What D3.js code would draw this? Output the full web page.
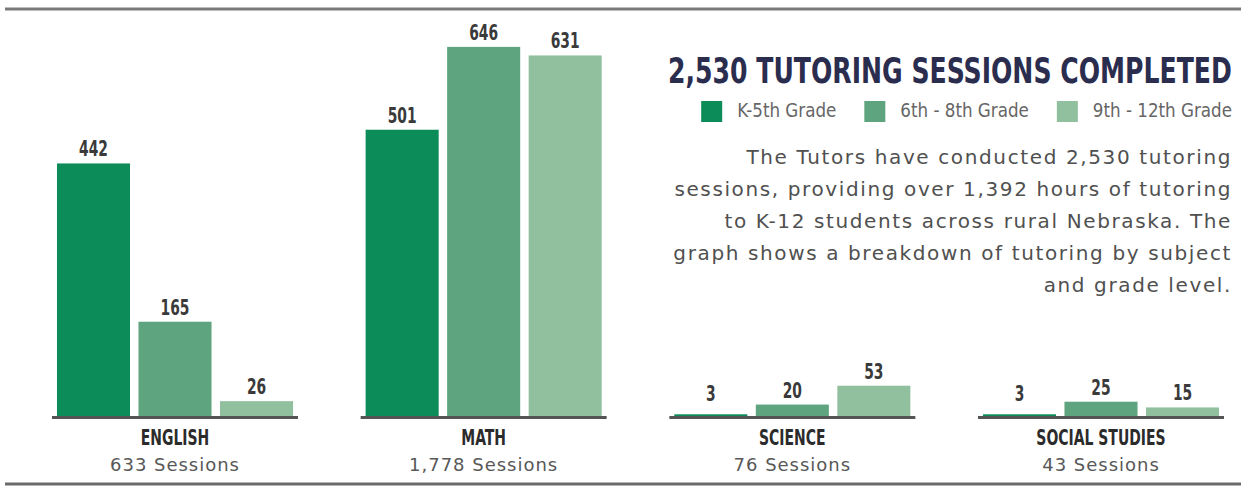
<!DOCTYPE html>
<html>
<head>
<meta charset="utf-8">
<script src="https://cdn.jsdelivr.net/npm/d3@7"></script>
<style>
  html, body { margin: 0; padding: 0; background: #fff; }
  svg { display: block; }
</style>
</head>
<body>
<script>
'use strict';

const subjects = ['ENGLISH', 'MATH', 'SCIENCE', 'SOCIAL STUDIES'];
const sessionLabels = ['633 Sessions', '1,778 Sessions', '76 Sessions', '43 Sessions'];
const grades = ['K-5th Grade', '6th - 8th Grade', '9th - 12th Grade'];
const k5Values = [442, 501, 3, 3];
const g68Values = [165, 646, 20, 25];
const g912Values = [26, 631, 53, 15];
const gradeColors = ['#0b8c59', '#5ea47e', '#91c09f'];
const title = '2,530 TUTORING SESSIONS COMPLETED';
const blurb = [
  'The Tutors have conducted 2,530 tutoring',
  'sessions, providing over 1,392 hours of tutoring',
  'to K-12 students across rural Nebraska. The',
  'graph shows a breakdown of tutoring by subject',
  'and grade level.'
];

const width = 1241;
const height = 487;
const baseline = 416;
const condensed = '"DejaVu Sans Condensed", "Liberation Sans Narrow", sans-serif';
const bodyFont = '"DejaVu Sans", "Open Sans", sans-serif';

let svg = d3.select('body').append('svg')
  .attr('width', width)
  .attr('height', height);

// rules top and bottom
svg.append('line')
  .attr('x1', 5).attr('x2', width).attr('y1', 9).attr('y2', 9)
  .attr('stroke', '#7a7a7a').attr('stroke-width', 3);
svg.append('line')
  .attr('x1', 5).attr('x2', width).attr('y1', 484).attr('y2', 484)
  .attr('stroke', '#6a6a6a').attr('stroke-width', 3);

// scales
let xGroup = d3.scaleBand()
  .domain(subjects)
  .range([52, 1224])
  .paddingInner(0.203);

let xGrade = d3.scaleBand()
  .domain(grades)
  .range([0, xGroup.bandwidth()])
  .paddingInner(0.104)
  .paddingOuter(0.061);

let y = d3.scaleLinear()
  .domain([0, 700])
  .range([baseline, baseline - 0.5714 * 700]);

let color = d3.scaleOrdinal().domain(grades).range(gradeColors);

let data = subjects.map((s, i) => ({
  subject: s,
  sessions: sessionLabels[i],
  values: [k5Values[i], g68Values[i], g912Values[i]].map((v, j) => ({ grade: grades[j], value: v }))
}));

let groups = svg.selectAll('.group')
  .data(data)
  .enter()
  .append('g')
    .attr('class', 'group')
    .attr('transform', d => 'translate(' + xGroup(d.subject) + ',0)');

// baseline under each group
groups.append('line')
  .attr('x1', 0)
  .attr('x2', xGroup.bandwidth())
  .attr('y1', baseline + 1.5)
  .attr('y2', baseline + 1.5)
  .attr('stroke', '#555')
  .attr('stroke-width', 3);

groups.selectAll('.bar')
  .data(d => d.values)
  .enter()
  .append('rect')
    .attr('class', 'bar')
    .attr('x', d => xGrade(d.grade))
    .attr('y', d => y(d.value))
    .attr('width', xGrade.bandwidth())
    .attr('height', d => baseline - y(d.value))
    .attr('fill', d => color(d.grade));

groups.selectAll('.val')
  .data(d => d.values)
  .enter()
  .append('text')
    .attr('class', 'val')
    .attr('transform', d => 'translate(' + (xGrade(d.grade) + xGrade.bandwidth() / 2) + ',' +
      (Math.min(y(d.value), baseline - 8) - 7) + ') scale(0.7,1)')
    .attr('text-anchor', 'middle')
    .style('font-family', condensed)
    .style('font-weight', 'bold')
    .style('font-size', '22px')
    .attr('fill', '#3a3a3a')
    .text(d => d.value);

groups.append('text')
  .attr('transform', 'translate(' + xGroup.bandwidth() / 2 + ',445) scale(0.74,1)')
  .attr('text-anchor', 'middle')
  .style('font-family', condensed)
  .style('font-weight', 'bold')
  .style('font-size', '21px')
  .attr('fill', '#2b2b2b')
  .text(d => d.subject);

let sess = groups.append('text')
  .attr('x', xGroup.bandwidth() / 2)
  .attr('y', 471)
  .attr('text-anchor', 'middle')
  .style('font-family', bodyFont)
  .style('font-size', '18px')
  .attr('fill', '#585858')
  .text(d => d.sessions);
// tune the spacing so "633 Sessions" spans about 129px like the print font
let sw = sess.nodes()[0].getComputedTextLength();
sess.style('letter-spacing', ((129 - sw) / (sessionLabels[0].length - 1)) + 'px');

// title, squeezed to the width of the heading
let titleText = svg.append('text')
  .style('font-family', condensed)
  .style('font-weight', 'bold')
  .style('font-size', '36px')
  .attr('fill', '#2b2d4f')
  .text(title);
let tw = titleText.node().getComputedTextLength();
titleText.attr('transform', 'translate(668,83) scale(' + (564 / tw) + ',1)');

// legend, right aligned to 1232
let legend = svg.append('g');
let lx = 0;
grades.forEach(function(g, i) {
  let item = legend.append('g').attr('transform', 'translate(' + lx + ',0)');
  item.append('rect')
    .attr('x', 0).attr('y', 101)
    .attr('width', 21).attr('height', 21)
    .attr('fill', color(g));
  let t = item.append('text')
    .attr('transform', 'translate(36,117) scale(0.93,1)')
    .style('font-family', condensed)
    .style('font-size', '20px')
    .attr('fill', '#666')
    .text(g);
  let w = t.node().getComputedTextLength() * 0.93;
  lx += 36 + w + (i < grades.length - 1 ? 28 : 0);
});
legend.attr('transform', 'translate(' + (1232 - lx) + ',0)');

// description
let lines = svg.selectAll('.blurb')
  .data(blurb)
  .enter()
  .append('text')
    .attr('class', 'blurb')
    .attr('x', 1232)
    .attr('y', (d, i) => 164 + i * 32)
    .attr('text-anchor', 'end')
    .style('font-family', bodyFont)
    .style('font-size', '20px')
    .attr('fill', '#505050')
    .text(d => d);
// first line spans about 484px in the reference
let bw = lines.nodes()[0].getComputedTextLength();
lines.style('letter-spacing', ((484 - bw) / (blurb[0].length - 1)) + 'px');
</script>
</body>
</html>
